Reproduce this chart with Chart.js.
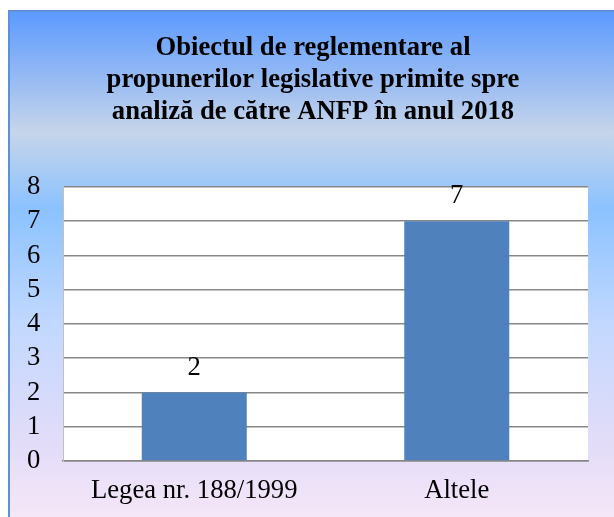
<!DOCTYPE html>
<html>
<head>
<meta charset="utf-8">
<script src="https://cdn.jsdelivr.net/npm/chart.js@4"></script>
<style>
  html, body { margin: 0; padding: 0; background: #fff; }
  #wrap { width: 614px; height: 517px; }
</style>
</head>
<body>
<div id="wrap"><canvas id="chart"></canvas></div>
<script>
const categories = ['Legea nr. 188/1999', 'Altele'];
const values = [2, 7];
const titleLines = [
  'Obiectul de reglementare al',
  'propunerilor legislative primite spre',
  'analiză de către ANFP în anul 2018'
];

const colors = {
  bar: '#4f81bd',
  grid: '#878787',
  frame: '#5f8fd6',
  text: '#000000',
};
const serif = '"Liberation Serif", "Times New Roman", serif';

// gradient frame behind everything, white plot area
const backdrop = {
  id: 'backdrop',
  beforeDraw(chart) {
    const { ctx, width, height, chartArea } = chart;
    ctx.save();
    ctx.fillStyle = '#ffffff';
    ctx.fillRect(0, 0, width, height);
    const g = ctx.createLinearGradient(0, 11, 0, height);
    g.addColorStop(0, '#5b9aff');
    g.addColorStop(0.24, '#c6d5ea');
    g.addColorStop(0.39, '#8bc2ff');
    g.addColorStop(0.62, '#c2d8ff');
    g.addColorStop(0.85, '#e2dcf8');
    g.addColorStop(1, '#f5e6f8');
    ctx.fillStyle = g;
    ctx.fillRect(9, 11, width - 9, height - 11);
    ctx.strokeStyle = colors.frame;
    ctx.lineWidth = 2;
    ctx.beginPath();
    ctx.moveTo(9, height);
    ctx.lineTo(9, 11);
    ctx.lineTo(width, 11);
    ctx.stroke();
    ctx.fillStyle = '#ffffff';
    ctx.fillRect(chartArea.left, chartArea.top, chartArea.right - chartArea.left, chartArea.bottom - chartArea.top);
    ctx.restore();
  }
};

const valueLabels = {
  id: 'valueLabels',
  afterDatasetsDraw(chart) {
    const { ctx } = chart;
    const meta = chart.getDatasetMeta(0);
    ctx.save();
    ctx.font = '26.67px ' + serif;
    ctx.fillStyle = colors.text;
    ctx.textAlign = 'center';
    ctx.textBaseline = 'middle';
    meta.data.forEach((bar, i) => {
      ctx.fillText(String(values[i]), bar.x, bar.y - 25);
    });
    ctx.restore();
  }
};

new Chart(document.getElementById('chart'), {
  type: 'bar',
  data: {
    labels: categories,
    datasets: [{
      data: values,
      backgroundColor: colors.bar,
      barPercentage: 0.4,
      categoryPercentage: 1,
    }],
  },
  options: {
    responsive: true,
    maintainAspectRatio: false,
    animation: false,
    // left padding keeps the title centred on the whole frame
    layout: { padding: { left: 38, right: 26, top: 0, bottom: 0 } },
    plugins: {
      legend: { display: false },
      tooltip: { enabled: false },
      title: {
        display: true,
        text: titleLines,
        color: colors.text,
        font: { family: serif, size: 26.67, weight: 'bold', lineHeight: 1.2 },
        padding: { top: 32, bottom: 59 },
      },
    },
    scales: {
      x: {
        afterFit(scale) { scale.height = 56; },
        grid: { display: false, drawTicks: false },
        border: { color: colors.grid, width: 1.5 },
        ticks: {
          color: colors.text,
          padding: 14,
          font: { family: serif, size: 26.67 },
        },
      },
      y: {
        min: 0,
        max: 8,
        afterFit(scale) { scale.width = 25; },
        grid: { color: colors.grid, lineWidth: 1.6, drawTicks: false },
        border: { color: '#c0c0c0', width: 1 },
        ticks: {
          stepSize: 1,
          autoSkip: false,
          // mirrored with negative padding so labels sit left of the axis without clipping
          mirror: true,
          padding: -36,
          color: colors.text,
          font: { family: serif, size: 26.67 },
        },
      },
    },
  },
  plugins: [backdrop, valueLabels],
});
</script>
</body>
</html>
